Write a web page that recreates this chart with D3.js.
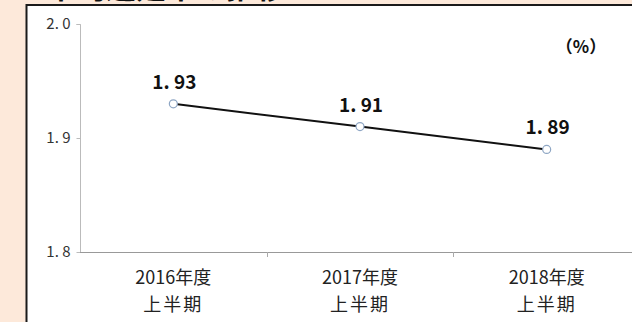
<!DOCTYPE html>
<html>
<head>
<meta charset="utf-8">
<script src="https://cdn.jsdelivr.net/npm/d3@7"></script>
<style>
  body { margin: 0; background: #fde9da; }
  svg { display: block; }
</style>
</head>
<body>
<svg id="chart" width="632" height="322"></svg>
<script>
  // chart data
  const categories = ["2016年度\n上半期", "2017年度\n上半期", "2018年度\n上半期"]
  const values = [1.93, 1.91, 1.89]
  const valueLabels = ["1. 93", "1. 91", "1. 89"]
  const yTicks = [1.8, 1.9, 2.0]
  const yTickLabels = ["1. 8", "1. 9", "2. 0"]

  const w = 632
  const h = 322
  const font = "'Noto Sans CJK JP', 'Noto Sans', sans-serif"

  const svg = d3.select("#chart")

  // peach page + white panel with black top/left border
  svg.append("rect").attr("width", w).attr("height", h).attr("fill", "#fde9da")
  svg.append("rect")
    .attr("x", 26).attr("y", 5).attr("width", w - 26).attr("height", h - 5)
    .attr("fill", "#fff")
  svg.append("path")
    .attr("d", `M26.5,${h} V5 H${w}`)
    .attr("fill", "none").attr("stroke", "#1a1a1a").attr("stroke-width", 2)

  // title, mostly cut off at the top like the reference
  svg.append("text")
    .attr("x", 16).attr("y", -2)
    .attr("font-family", font).attr("font-weight", "bold").attr("font-size", 30)
    .attr("fill", "#111")
    .text("■平均遅延率の推移")

  //scales
  const xScale = d3.scaleBand()
    .domain(categories)
    .range([80, 640])

  const yScale = d3.scaleLinear()
    .domain([1.8, 2.0])
    .range([252, 24])

  //y axis
  const yAxis = d3.axisLeft(yScale)
    .tickValues(yTicks)
    .tickSize(4)
    .tickFormat((d, i) => yTickLabels[i])

  const gy = svg.append("g")
    .attr("transform", "translate(80.5, 0)")
    .call(yAxis)
  gy.select(".domain").attr("stroke", "#bbb").attr("d", "M-4,24.5 H0 V252.5")
  gy.selectAll(".tick line").attr("stroke", "#bbb")
  gy.selectAll(".tick text")
    .attr("x", -10)
    .attr("font-family", font).attr("font-size", 15).attr("fill", "#333")

  //x axis
  const xAxis = d3.axisBottom(xScale).tickSize(0).tickFormat("")
  const gx = svg.append("g")
    .attr("transform", "translate(0, 252.5)")
    .call(xAxis)
  gx.select(".domain").attr("stroke", "#999").attr("d", "M80,0 H640")

  // category boundary ticks
  svg.selectAll(".sep")
    .data(categories.slice(1))
    .enter()
    .append("line")
    .attr("x1", d => Math.round(xScale(d)) + 0.5)
    .attr("x2", d => Math.round(xScale(d)) + 0.5)
    .attr("y1", 252).attr("y2", 257)
    .attr("stroke", "#aaa")

  // category labels (two lines)
  const catText = svg.selectAll(".cat")
    .data(categories)
    .enter()
    .append("text")
    .attr("text-anchor", "middle")
    .attr("font-family", font).attr("font-size", 18).attr("fill", "#222")
  catText.selectAll("tspan")
    .data(d => d.split("\n").map(s => ({ s, d })))
    .enter()
    .append("tspan")
    .attr("x", p => xScale(p.d) + xScale.bandwidth() / 2)
    .attr("y", (p, i) => 284 + i * 27)
    .attr("letter-spacing", (p, i) => i === 1 ? 2 : 0)
    .text(p => p.s)

  // line
  const line = d3.line()
    .x((d, i) => xScale(categories[i]) + xScale.bandwidth() / 2)
    .y(d => yScale(d))

  svg.append("path")
    .datum(values)
    .attr("d", line)
    .attr("fill", "none")
    .attr("stroke", "#111")
    .attr("stroke-width", 2)

  svg.selectAll("circle")
    .data(values)
    .enter()
    .append("circle")
    .attr("cx", (d, i) => xScale(categories[i]) + xScale.bandwidth() / 2)
    .attr("cy", d => yScale(d))
    .attr("r", 4)
    .attr("fill", "#fff")
    .attr("stroke", "#8ea6c4")
    .attr("stroke-width", 1.2)

  // value labels
  svg.selectAll(".val")
    .data(values)
    .enter()
    .append("text")
    .attr("x", (d, i) => xScale(categories[i]) + xScale.bandwidth() / 2 + 1)
    .attr("y", d => yScale(d) - 15)
    .attr("text-anchor", "middle")
    .attr("font-family", font).attr("font-weight", "bold").attr("font-size", 19)
    .attr("fill", "#111")
    .text((d, i) => valueLabels[i])

  // unit
  svg.append("text")
    .attr("x", 581).attr("y", 53)
    .attr("text-anchor", "middle")
    .attr("font-family", font).attr("font-weight", "bold").attr("font-size", 17)
    .attr("fill", "#111")
    .text("（%）")
</script>
</body>
</html>
